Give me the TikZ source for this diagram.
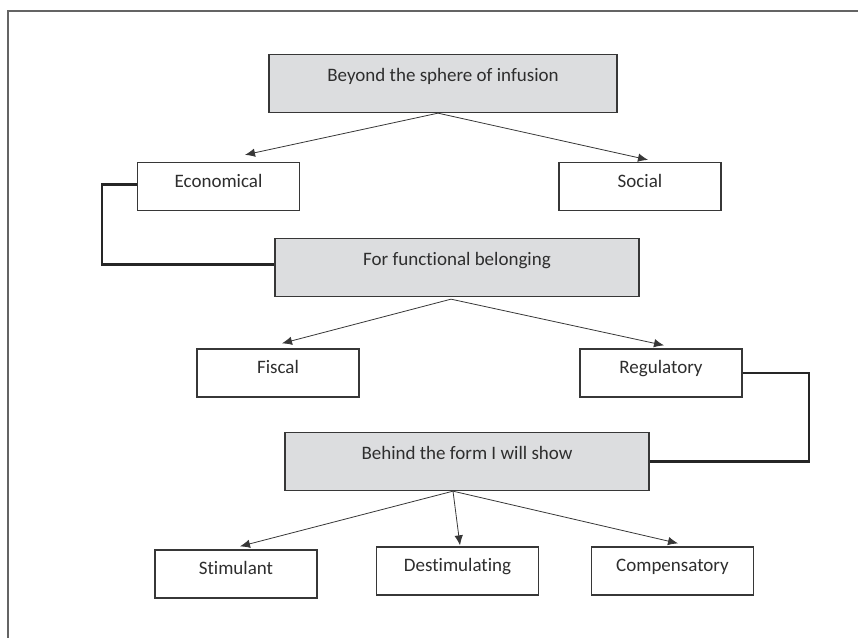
\documentclass[tikz,border=0pt]{standalone}
\usepackage{fontspec}
\setmainfont[Ligatures=NoCommon]{Carlito}
\usepackage{tikz}
\usetikzlibrary{calc}
\usetikzlibrary{arrows.meta}
\usetikzlibrary{positioning}
\definecolor{boxgray}{RGB}{220,221,223}
\definecolor{linegray}{RGB}{55,55,55}
\definecolor{framegray}{RGB}{100,100,100}
\tikzset{headbox/.style={rectangle,draw=linegray,line width=1.3pt,fill=boxgray,inner sep=0pt,text height=26.5pt,text depth=31.5pt,text=black!82,font=\fontsize{19}{22}\selectfont}}
\tikzset{leafbox/.style={rectangle,draw=linegray,line width=1.3pt,fill=white,inner sep=0pt,minimum width=162pt,text height=24.5pt,text depth=23.5pt,text=black!82,font=\fontsize{19}{22}\selectfont}}
\tikzset{branch/.style={draw=linegray,line width=0.8pt,-{Latex[length=10pt,width=8.5pt]}}}
\tikzset{bracket/.style={draw=black!85,line width=2.2pt}}

\begin{document}
\begin{tikzpicture}[x=1pt,y=-1pt]
\useasboundingbox (0,0) rectangle (858,638);
\draw[framegray, line width=1.5pt] (858,11) -- (8,11) -- (8,638);

   \node[headbox, minimum width=348pt] (sphere) at (443, 83.5){Beyond the sphere of infusion};
   \node[leafbox] (econ) at (218.5, 186.5){Economical};
   \node[leafbox] (social) at (640, 186.5){Social};

   \node[headbox, minimum width=364pt] (belong) at (457, 267.5){For functional belonging};
   \node[leafbox] (fiscal) at (278, 373){Fiscal};
   \node[leafbox] (regul) at (661, 373){Regulatory};

   \node[headbox, minimum width=364pt] (show) at (467, 461.5){Behind the form I will show};
   \node[leafbox] (stim) at (236, 574){Stimulant};
   \node[leafbox] (destim) at (457.5, 571){Destimulating};
   \node[leafbox] (comp) at (672.5, 571){Compensatory};

    \draw[branch] ([xshift=-5pt]sphere.south) -- ([xshift=26.5pt,yshift=7pt]econ.north);
    \draw[branch] ([xshift=-5pt]sphere.south) -- ([xshift=8pt,yshift=2pt]social.north);

    \draw[branch] ([xshift=-6pt,yshift=-2pt]belong.south) -- ([xshift=4pt,yshift=5pt]fiscal.north);
    \draw[branch] ([xshift=-6pt,yshift=-2pt]belong.south) -- ([xshift=3pt,yshift=3pt]regul.north);

    \draw[branch] ([xshift=-14pt]show.south) -- ([xshift=4pt,yshift=3pt]stim.north);
    \draw[branch] ([xshift=-14pt]show.south) -- ([xshift=2.5pt,yshift=1pt]destim.north);
    \draw[branch] ([xshift=-14pt]show.south) -- ([xshift=5.5pt,yshift=3pt]comp.north);

    % side links
    \draw[bracket] ([yshift=2pt]econ.west) -- ++(-35,0) |- ([yshift=3pt]belong.west);
    \draw[bracket] (regul.east) -- ++(66,0) |- (show.east);

\end{tikzpicture}
\end{document}
